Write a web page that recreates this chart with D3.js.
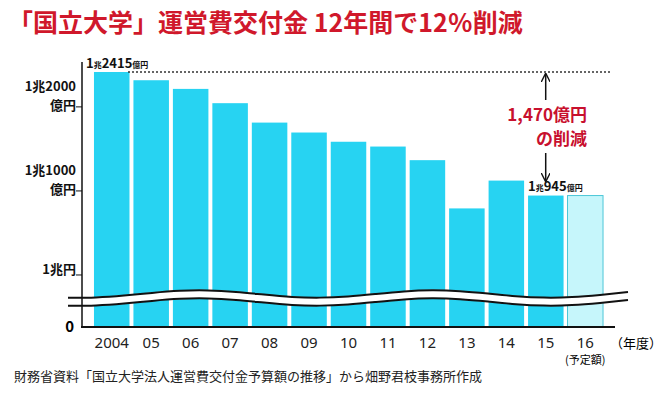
<!DOCTYPE html>
<html><head><meta charset="utf-8">
<script src="https://cdn.jsdelivr.net/npm/d3@7"></script>
<style>
body{margin:0;background:#fff;font-family:"Noto Sans CJK JP","Noto Sans",sans-serif;}
</style></head><body>
<svg id="chart" width="670" height="410"></svg>
<script>
// data (億円)
var years = ["2004","05","06","07","08","09","10","11","12","13","14","15","16"];
var values = [12415,12317,12214,12044,11813,11695,11585,11528,11366,10792,11123,10945,10945];
var tickValues = [10000,11000,12000];
var tickLabels = [["1兆円"],["1兆1000","億円"],["1兆2000","億円"]];

var svg = d3.select("#chart");
var fontB = "'Noto Sans CJK JP',sans-serif";

// title
svg.append("text").attr("x", 8).attr("y", 32)
  .attr("fill", "#d0182b").style("font-size", "25px").style("font-weight", "bold")
  .style("font-family", fontB)
  .text("「国立大学」運営費交付金 12年間で12％削減");

var x = d3.scaleBand().domain(years).range([92, 605]).paddingInner(0.1).paddingOuter(0.05);
var y = d3.scaleLinear().domain([9381, 12415]).range([327, 72]);

// bars
svg.selectAll(".bar").data(values).enter().append("rect")
  .attr("x", function(d, i) { return x(years[i]); })
  .attr("width", x.bandwidth())
  .attr("y", function(d) { return y(d); })
  .attr("height", function(d) { return 327 - y(d); })
  .attr("fill", function(d, i) { return i == years.length - 1 ? "#c6f6fb" : "#27d3f2"; })
  .attr("stroke", function(d, i) { return i == years.length - 1 ? "#4cc7d8" : "none"; });

// break wave
var wave = d3.line().curve(d3.curveBasis);
var pts = [];
for (var k = 0; k <= 20; k++) {
  var px = 68 + k * 28;
  pts.push([px, 298 + 4 * Math.sin(k * 0.75 + 1.2)]);
}
svg.append("path").attr("d", wave(pts)).attr("fill", "none").attr("stroke", "#fff").attr("stroke-width", 9);
svg.append("path").attr("d", wave(pts)).attr("fill", "none").attr("stroke", "#111").attr("stroke-width", 2).attr("transform", "translate(0,-4)");
svg.append("path").attr("d", wave(pts)).attr("fill", "none").attr("stroke", "#111").attr("stroke-width", 2).attr("transform", "translate(0,4)");

// axes
svg.append("line").attr("x1", 82).attr("x2", 82).attr("y1", 62).attr("y2", 328).attr("stroke", "#111").attr("stroke-width", 1.5);
svg.append("line").attr("x1", 81).attr("x2", 615).attr("y1", 327).attr("y2", 327).attr("stroke", "#111").attr("stroke-width", 2);
svg.selectAll(".tick").data(tickValues).enter().append("line")
  .attr("x1", 76).attr("x2", 82).attr("y1", function(d) { return y(d); }).attr("y2", function(d) { return y(d); })
  .attr("stroke", "#111");
tickValues.forEach(function(v, i) {
  var lab = tickLabels[i];
  var t = svg.append("text").attr("text-anchor", "end").attr("fill", "#111")
    .style("font-size", "13px").style("font-weight", "bold").style("font-family", fontB);
  if (lab.length == 1) {
    t.attr("x", 76).attr("y", y(v) - 1).text(lab[0]);
  } else {
    t.append("tspan").attr("x", 76).attr("y", y(v) - 16).text(lab[0]);
    t.append("tspan").attr("x", 76).attr("y", y(v) + 3).text(lab[1]);
  }
});
svg.append("text").attr("x", 74).attr("y", 332).attr("text-anchor", "end")
  .style("font-size", "15px").style("font-weight", "bold").text("0");

// x labels
svg.selectAll(".xl").data(years).enter().append("text")
  .attr("x", function(d) { return x(d) + x.bandwidth() / 2; }).attr("y", 348)
  .attr("text-anchor", "middle").attr("fill", "#222")
  .style("font-size", "15px").style("font-family", "'Noto Sans',sans-serif").text(function(d) { return d; });
svg.append("text").attr("x", 610).attr("y", 348).style("font-size", "13px").text("（年度）");
svg.append("text").attr("x", x("16") + x.bandwidth() / 2).attr("y", 364).attr("text-anchor", "middle")
  .style("font-size", "11px").text("(予定額)");

// dotted max line
svg.append("line").attr("x1", 128).attr("x2", 612).attr("y1", y(values[0])).attr("y2", y(values[0]))
  .attr("stroke", "#333").attr("stroke-width", 1.5).attr("stroke-dasharray", "2,2");

// value labels
function valLabel(xp, yp, a) {
  var t = svg.append("text").attr("x", xp).attr("y", yp).attr("fill", "#111").style("font-family", fontB).style("font-weight", "bold");
  t.append("tspan").style("font-size", "13px").text("1");
  t.append("tspan").style("font-size", "8px").text("兆");
  t.append("tspan").style("font-size", "13px").text(a);
  t.append("tspan").style("font-size", "8px").text("億円");
}
valLabel(86, 68, "2415");
valLabel(528, 191, "945");

// arrows & annotation
var ax = x("15") + x.bandwidth() * 0.3 + 7;
svg.append("defs").append("marker").attr("id", "ah").attr("viewBox", "0 0 10 10").attr("refX", 9).attr("refY", 5)
  .attr("markerWidth", 6).attr("markerHeight", 6).attr("orient", "auto")
  .append("path").attr("d", "M0,0 L10,5 L0,10").attr("fill", "none").attr("stroke", "#111").attr("stroke-width", 1.5);
svg.append("line").attr("x1", ax).attr("x2", ax).attr("y1", 100).attr("y2", y(values[0]) + 2)
  .attr("stroke", "#111").attr("stroke-width", 1.5).attr("marker-end", "url(#ah)");
svg.append("line").attr("x1", ax).attr("x2", ax).attr("y1", 153).attr("y2", 181)
  .attr("stroke", "#111").attr("stroke-width", 1.5).attr("marker-end", "url(#ah)");
svg.append("text").attr("x", 587).attr("y", 121).attr("text-anchor", "end").attr("fill", "#c8102e")
  .style("font-size", "17px").style("font-weight", "bold").style("font-family", fontB).text("1,470億円");
svg.append("text").attr("x", 587).attr("y", 145).attr("text-anchor", "end").attr("fill", "#c8102e")
  .style("font-size", "17px").style("font-weight", "bold").style("font-family", fontB).text("の削減");

// source
svg.append("text").attr("x", 14).attr("y", 381).attr("fill", "#222").style("font-size", "13px")
  .style("font-family", fontB).text("財務省資料「国立大学法人運営費交付金予算額の推移」から畑野君枝事務所作成");
</script>
</body></html>
